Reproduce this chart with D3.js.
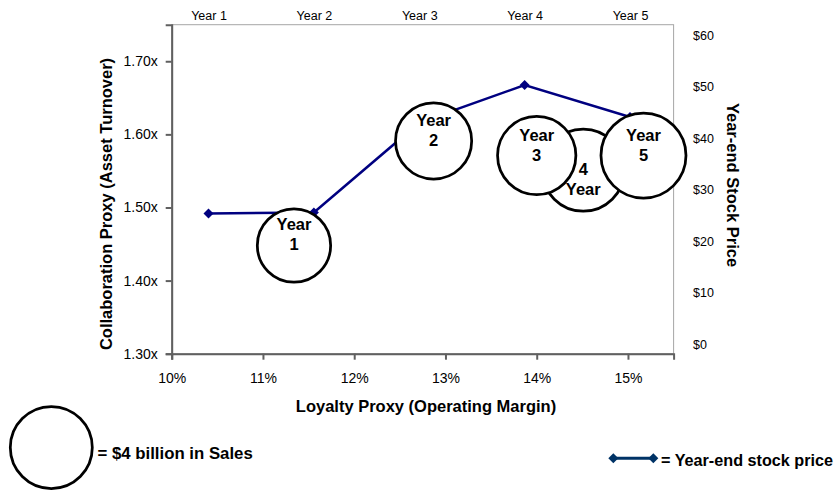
<!DOCTYPE html>
<html>
<head>
    <title></title>
    <meta charset="utf-8" />
    <script src="https://d3js.org/d3.v7.min.js"></script>
    <style>
        body { margin: 0; background: #fff; }
        text { font-family: Arial, "Liberation Sans", sans-serif; fill: #000; }
        .tick text { font-size: 14px; }
        .small .tick text { font-size: 12.5px; }
        .title { font-size: 16.5px; font-weight: bold; }
        .legend { font-size: 16.8px; font-weight: bold; }
        .bubble text { font-size: 16.5px; font-weight: bold; text-anchor: middle; }
    </style>
</head>
<body>
    <script>
        // chart values
        var years = ["Year 1", "Year 2", "Year 3", "Year 4", "Year 5"];
        var opMargin = [11.34, 12.87, 14.0, 14.51, 15.17];      // x, %
        var turnover = [1.448, 1.591, 1.571, 1.551, 1.571];   // y, x-times
        var sales = [3.2, 3.45, 3.65, 4.0, 4.3];              // $ billion, bubble size
        var stockPrice = [25.4, 25.6, 43.0, 50.3, 44.1];      // $ year-end
        var bubbleLabels = [["Year", "1"], ["Year", "2"], ["Year", "3"], ["4", "Year"], ["Year", "5"]];
        var xTicks = [10, 11, 12, 13, 14, 15];
        var yTicks = [1.3, 1.4, 1.5, 1.6, 1.7];
        var priceTicks = [0, 10, 20, 30, 40, 50, 60];
        var legendSales = 4;

        var width = 840, height = 490;
        var plotL = 171.7, plotR = 673.6, plotT = 24.7, plotB = 353.7;

        var svg = d3.select("body").append("svg")
            .attr("width", width)
            .attr("height", height);

        var x = d3.scaleLinear().domain([10, 15.5]).range([plotL, plotR]);
        var y = d3.scaleLinear().domain([1.3, 1.75]).range([plotB, plotT]);
        var yPrice = d3.scaleLinear().domain([0, 60]).range([344.5, 35]);
        var xYear = d3.scalePoint().domain(years).range([208.5, 630]);
        var r = d3.scaleSqrt().domain([0, 4]).range([0, 41]);

        // plot frame (top / right are light)
        svg.append("rect")
            .attr("x", plotL).attr("y", plotT)
            .attr("width", plotR - plotL).attr("height", plotB - plotT)
            .attr("fill", "none").attr("stroke", "#a6a6a6").attr("stroke-width", 1);

        var gx = svg.append("g")
            .attr("transform", "translate(0," + plotB + ")")
            .call(d3.axisBottom(x).tickValues(xTicks).tickFormat(function (d) { return d + "%"; })
                .tickSizeOuter(0).tickSize(6).tickPadding(13));

        var gy = svg.append("g")
            .attr("transform", "translate(" + plotL + ",0)")
            .call(d3.axisLeft(y).tickValues(yTicks).tickFormat(function (d) { return d.toFixed(2) + "x"; })
                .tickSizeOuter(0).tickSize(6).tickPadding(8));

        [gx, gy].forEach(function (g) {
            g.selectAll("path, line").attr("stroke", "#606060").attr("stroke-width", 2);
        });

        var gTop = svg.append("g").attr("class", "small")
            .attr("transform", "translate(0," + plotT + ")")
            .call(d3.axisTop(xYear).tickSize(0).tickPadding(5));
        gTop.select(".domain").remove();

        var gRight = svg.append("g").attr("class", "small")
            .attr("transform", "translate(" + plotR + ",0)")
            .call(d3.axisRight(yPrice).tickValues(priceTicks).tickFormat(function (d) { return "$" + d; })
                .tickSize(0).tickPadding(19.5));
        gRight.select(".domain").remove();

        // axis titles
        svg.append("text").attr("class", "title")
            .attr("transform", "translate(106,204) rotate(-90)")
            .attr("text-anchor", "middle").attr("dy", "0.35em")
            .text("Collaboration Proxy (Asset Turnover)");

        svg.append("text").attr("class", "title")
            .attr("transform", "translate(733,185) rotate(90)")
            .attr("text-anchor", "middle").attr("dy", "0.35em")
            .text("Year-end Stock Price");

        svg.append("text").attr("class", "title")
            .attr("x", 426).attr("y", 411.5)
            .attr("text-anchor", "middle")
            .text("Loyalty Proxy (Operating Margin)");

        // stock price line
        var line = d3.line()
            .x(function (d, i) { return xYear(years[i]); })
            .y(function (d) { return yPrice(d); });

        svg.append("path")
            .datum(stockPrice)
            .attr("d", line)
            .attr("fill", "none").attr("stroke", "#000080").attr("stroke-width", 2.5);

        var diamond = d3.symbol().type(d3.symbolSquare).size(50);
        svg.selectAll(".marker").data(stockPrice).enter().append("path")
            .attr("class", "marker")
            .attr("d", diamond)
            .attr("transform", function (d, i) { return "translate(" + xYear(years[i]) + "," + yPrice(d) + ") rotate(45)"; })
            .attr("fill", "#000080");

        // bubbles
        var bubbles = years.map(function (yr, i) {
            return { i: i, x: opMargin[i], y: turnover[i], s: sales[i], label: bubbleLabels[i] };
        }).sort(function (a, b) { return a.y - b.y; });

        var bg = svg.selectAll(".bubble").data(bubbles).enter().append("g")
            .attr("class", "bubble")
            .attr("transform", function (d) { return "translate(" + x(d.x) + "," + y(d.y) + ")"; });

        bg.append("circle")
            .attr("r", function (d) { return r(d.s); })
            .attr("fill", "#fff").attr("stroke", "#000").attr("stroke-width", 2.75);

        bg.each(function (d) {
            var shift = d.label[0] === "Year" ? 0 : 20;
            d3.select(this).selectAll("text").data(d.label).enter().append("text")
                .attr("y", function (t, k) { return -15 + shift + k * 20; })
                .text(function (t) { return t; });
        });

        // legend: bubble size
        svg.append("circle")
            .attr("cx", 51.3).attr("cy", 447.5)
            .attr("r", r(legendSales))
            .attr("fill", "#fff").attr("stroke", "#000").attr("stroke-width", 2.75);
        svg.append("text").attr("class", "legend")
            .attr("x", 97.5).attr("y", 458.5)
            .text("= $" + legendSales + " billion in Sales");

        // legend: stock price line
        var lg = svg.append("g").attr("transform", "translate(613.3,458.3)");
        lg.append("line").attr("x1", 0).attr("x2", 40)
            .attr("stroke", "#003366").attr("stroke-width", 3);
        lg.selectAll(".lm").data([0, 40]).enter().append("path")
            .attr("d", diamond)
            .attr("transform", function (d) { return "translate(" + d + ",0) rotate(45)"; })
            .attr("fill", "#003366");
        svg.append("text").attr("class", "legend")
            .attr("x", 661).attr("y", 466)
            .style("font-size", "16.2px")
            .text("= Year-end stock price");
    </script>
</body>
</html>
